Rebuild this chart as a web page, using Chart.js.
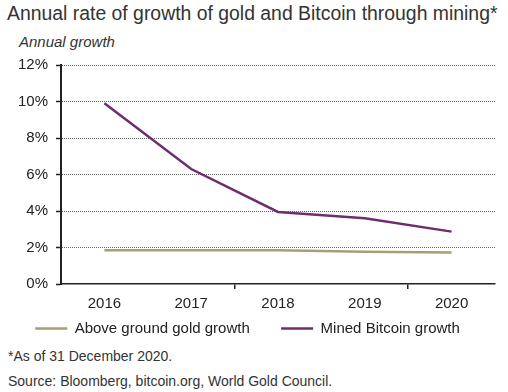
<!DOCTYPE html>
<html>
<head>
<meta charset="utf-8">
<script src="https://cdn.jsdelivr.net/npm/chart.js@4/dist/chart.umd.min.js"></script>
<style>
  body { margin: 0; background: #fff; font-family: "Liberation Sans", Arial, sans-serif; color: #222; }
  #wrap { position: relative; width: 508px; height: 392px; overflow: hidden; }
  .title { position: absolute; left: 7px; top: 2px; font-size: 19.4px; color: #333; white-space: nowrap; }
  .unit { position: absolute; left: 19px; top: 33px; font-size: 15px; font-style: italic; color: #333; }
  .note { position: absolute; left: 8px; font-size: 14px; color: #333; white-space: nowrap; }
  #box { position: absolute; left: 0; top: 48px; width: 508px; height: 298px; }
</style>
</head>
<body>
<div id="wrap">
  <div class="title">Annual rate of growth of gold and Bitcoin through mining*</div>
  <div class="unit">Annual growth</div>
  <div id="box"><canvas id="chart"></canvas></div>
  <div class="note" style="top:348px">*As of 31 December 2020.</div>
  <div class="note" style="top:373px">Source: Bloomberg, bitcoin.org, World Gold Council.</div>
</div>
<script>
const years = ['2016', '2017', '2018', '2019', '2020'];
const goldGrowth = [1.85, 1.85, 1.85, 1.77, 1.72];
const bitcoinGrowth = [9.9, 6.3, 3.95, 3.6, 2.87];
const yTicks = [0, 2, 4, 6, 8, 10, 12];

const ctx = document.getElementById('chart').getContext('2d');

const chart = new Chart(ctx, {
  type: 'line',
  data: {
    labels: years,
    datasets: [
      {
        label: 'Above ground gold growth',
        data: goldGrowth,
        borderColor: '#a59f76',
        borderWidth: 2.5,
        pointRadius: 0,
        tension: 0
      },
      {
        label: 'Mined Bitcoin growth',
        data: bitcoinGrowth,
        borderColor: '#6e2d6c',
        borderWidth: 2.5,
        pointRadius: 0,
        tension: 0
      }
    ]
  },
  options: {
    responsive: true,
    maintainAspectRatio: false,
    animation: false,
    layout: { padding: { top: 0, right: 13, left: 0, bottom: 0 } },
    plugins: {
      legend: {
        position: 'bottom',
        labels: {
          usePointStyle: true,
          pointStyle: 'line',
          pointStyleWidth: 32,
          padding: 8,
          color: '#222',
          font: { family: 'Liberation Sans', size: 15 },
          // widen the gap between the two entries without a tall legend box
          generateLabels: (c) => {
            const items = Chart.defaults.plugins.legend.labels.generateLabels(c);
            items.forEach((it, i) => { if (i < items.length - 1) it.text += '\u2003  '; });
            return items;
          }
        }
      },
      tooltip: { enabled: false }
    },
    scales: {
      y: {
        min: 0,
        max: 12,
        afterFit: (scale) => { scale.width = 61; },
        afterBuildTicks: (scale) => { scale.ticks = yTicks.map(v => ({ value: v })); },
        border: { color: '#222', width: 2, dash: [1, 1] },
        grid: {
          color: (c) => c.index === 0 ? 'rgba(0,0,0,0)' : '#666',
          lineWidth: 1,
          tickColor: '#222',
          tickLength: 5,
          tickBorderDash: [],
          tickWidth: 1.5
        },
        ticks: {
          callback: (v) => v + '%',
          color: '#222',
          padding: 8,
          font: { family: 'Liberation Sans', size: 15 }
        }
      },
      x: {
        offset: true,
        afterFit: (scale) => { scale.height = 29; },
        border: { color: '#222', width: 1.5 },
        grid: {
          offset: true,
          drawOnChartArea: false,
          color: (c) => (c.index === 2 || c.index === 4) ? '#222' : 'rgba(0,0,0,0)',
          tickLength: 5,
          lineWidth: 1.5
        },
        ticks: {
          color: '#222',
          padding: 6,
          font: { family: 'Liberation Sans', size: 15 }
        }
      }
    }
  }
});
</script>
</body>
</html>
